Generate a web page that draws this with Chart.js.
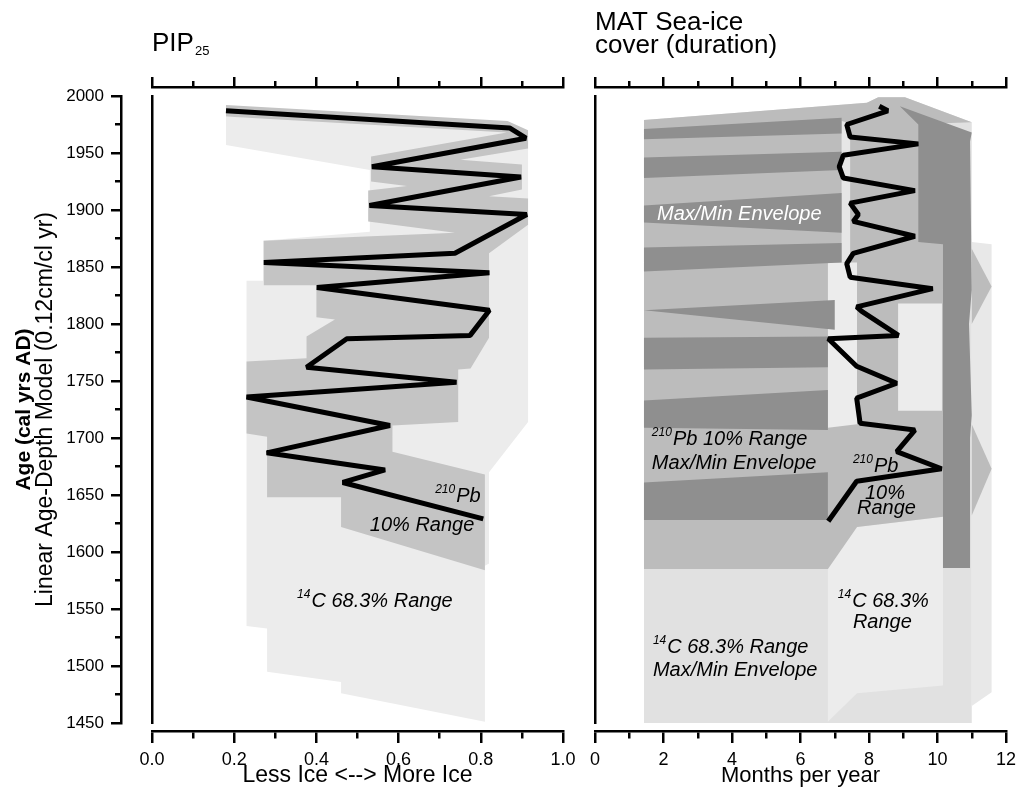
<!DOCTYPE html>
<html>
<head>
<meta charset="utf-8">
<title>PIP25 and MAT sea-ice cover</title>
<script src="https://cdn.jsdelivr.net/npm/chart.js@4.4.1/dist/chart.umd.min.js"></script>
<style>
  html, body { margin: 0; padding: 0; background: #fff; overflow: hidden; width: 1016px; height: 794px; }
  canvas { position: absolute; top: 0; }
  #pipChart { left: 0; }
  #matChart { left: 560px; }
</style>
</head>
<body>
<canvas id="pipChart" width="600" height="794"></canvas>
<canvas id="matChart" width="470" height="794"></canvas>
<script>
var FONT = '"Liberation Sans", Arial, Helvetica, sans-serif';

// age axis (cal yrs AD)
var ageMin = 1450, ageMax = 2000, ageStep = 25, ageLabelStep = 50;
// PIP25 axis
var pipMin = 0, pipMax = 1, pipStep = 0.1;
// sea-ice duration axis (months per year)
var iceMin = 0, iceMax = 12, iceStep = 1;

// PIP25 down-core profile
var pipValue = [0.18, 0.87, 0.91, 0.535, 0.898, 0.529, 0.912, 0.737, 0.272, 0.821, 0.401, 0.821, 0.774, 0.474, 0.376, 0.741, 0.23, 0.579, 0.279, 0.567, 0.464, 0.806];
var pipAge = [1987, 1972, 1963, 1938, 1929, 1904, 1896, 1862, 1854, 1845, 1832, 1812, 1790, 1787, 1762, 1749, 1736, 1711, 1687, 1672, 1661, 1629];

// PIP25 14C 68.3% range envelope [value, age]
var pip14C = [[0.18, 1982], [0.87, 1972], [0.915, 1966], [0.915, 1714], [0.82, 1670], [0.82, 1590], [0.81, 1588], [0.81, 1451],
  [0.46, 1476], [0.46, 1486], [0.28, 1495], [0.28, 1533], [0.23, 1535], [0.23, 1838], [0.27, 1838], [0.27, 1873],
  [0.53, 1881], [0.53, 1935], [0.18, 1957]];

// PIP25 210Pb 10% range envelope [value, age]
var pipPb = [[0.18, 1992], [0.865, 1978], [0.915, 1970], [0.915, 1954], [0.75, 1944], [0.9, 1940], [0.9, 1918], [0.82, 1912],
  [0.915, 1910], [0.915, 1887], [0.82, 1862], [0.82, 1788], [0.775, 1761], [0.745, 1760], [0.745, 1714], [0.585, 1711],
  [0.585, 1688], [0.81, 1668], [0.81, 1584], [0.46, 1622], [0.46, 1648], [0.28, 1648], [0.28, 1701], [0.23, 1704],
  [0.23, 1767], [0.376, 1770], [0.376, 1789], [0.445, 1804], [0.4, 1806], [0.4, 1834], [0.272, 1834], [0.272, 1873],
  [0.737, 1880], [0.526, 1890], [0.526, 1917], [0.62, 1921], [0.533, 1925], [0.533, 1947], [0.863, 1968], [0.18, 1982]];

// MAT sea-ice cover profile
var iceMonths = [8.3, 8.55, 7.35, 7.45, 9.44, 7.25, 7.13, 7.25, 9.34, 7.45, 7.69, 7.54, 9.34, 7.54, 7.35, 7.45, 9.86, 7.64, 7.79, 8.86, 6.81, 7.64, 8.81, 7.64, 7.74, 9.34, 8.81, 10.12, 7.64, 6.81];
var iceAge = [1991, 1987, 1975, 1964, 1958, 1948, 1938, 1928, 1917, 1906, 1896, 1890, 1877, 1862, 1853, 1841, 1831, 1815, 1811, 1790, 1787, 1763, 1748, 1735, 1713, 1707, 1688, 1673, 1662, 1627];

// MAT envelopes [months, age]
var ice14CMaxMin = [[1.43, 1450], [11.0, 1450], [11.0, 1977], [9.05, 1999], [8.27, 1999], [7.94, 1994], [1.43, 1979]];
var ice14COuter = [[11.0, 1872], [11.58, 1870], [11.58, 1477], [11.0, 1465]];
var ice14CRange = [[6.8, 1451], [7.65, 1476], [10.16, 1483], [10.16, 1631], [7.65, 1622], [6.8, 1585]];
var icePbMaxMin = [[1.43, 1585], [6.8, 1585], [7.65, 1622], [10.16, 1631], [10.16, 1976], [11.0, 1977], [9.05, 1999],
  [8.27, 1999], [7.94, 1994], [1.43, 1979]];
var icePbGapA = [[6.8, 1709], [7.65, 1712], [7.65, 1854], [6.8, 1854]];
var icePbGapB = [[8.85, 1724], [10.13, 1724], [10.13, 1818], [8.85, 1818]];
var icePbGapC = [[7.2, 1978], [7.45, 1976], [7.45, 1854], [7.2, 1854]];
var iceOuterTipA = [[11.0, 1866], [11.58, 1833], [11.0, 1800]];
var iceOuterTipB = [[11.0, 1712], [11.58, 1673], [11.0, 1632]];
var iceCore = [[10.16, 1586], [10.95, 1586], [10.95, 1700], [11.0, 1720], [10.92, 1800], [11.0, 1830], [10.95, 1960],
  [11.0, 1968], [8.9, 1991], [9.44, 1975], [9.44, 1872], [10.16, 1870]];
var iceStripes = [
  [[1.43, 1971], [7.2, 1981], [7.2, 1967], [1.43, 1962]],
  [[1.43, 1946], [7.2, 1951], [7.2, 1935], [1.43, 1928]],
  [[1.43, 1904], [7.2, 1915], [7.2, 1880], [1.43, 1889]],
  [[1.43, 1867], [7.2, 1871], [7.2, 1854], [1.43, 1846]],
  [[1.43, 1812], [7.0, 1821], [7.0, 1795]],
  [[1.43, 1788], [6.8, 1789], [6.8, 1762], [1.43, 1760]],
  [[1.43, 1733], [6.8, 1742], [6.8, 1707], [1.43, 1709]],
  [[1.43, 1661], [6.8, 1670], [6.8, 1628], [1.43, 1628]]
];

function pts(verts) {
  return verts.map(function (v) { return { x: v[0], y: v[1] }; });
}
function zip(xs, ys) {
  return xs.map(function (x, i) { return [x, ys[i]]; });
}
function area(verts, color, order) {
  return { data: pts(verts), backgroundColor: color, borderColor: 'rgba(0,0,0,0)', borderWidth: 0,
    pointRadius: 0, fill: 'shape', tension: 0, order: order };
}
function profile(xs, ys) {
  return { data: pts(zip(xs, ys)), borderColor: '#000', borderWidth: 5, pointRadius: 0, fill: false,
    tension: 0, borderJoinStyle: 'bevel', order: 0 };
}

// in-plot notes and panel titles
var panelText = {
  id: 'panelText',
  afterDatasetsDraw: function (chart, args, opts) {
    var ctx = chart.ctx, sx = chart.scales.x, sy = chart.scales.y;
    ctx.save();
    ctx.textBaseline = 'alphabetic';
    ctx.textAlign = 'left';
    (opts.notes || []).forEach(function (n) {
      var px = sx.getPixelForValue(n.x), py = sy.getPixelForValue(n.y);
      ctx.fillStyle = n.color || '#000';
      if (n.sup) {
        ctx.font = 'italic 12px ' + FONT;
        ctx.fillText(n.sup, px, py - 9);
        px += ctx.measureText(n.sup).width + 1;
      }
      ctx.font = 'italic 20px ' + FONT;
      ctx.fillText(n.text, px, py);
    });
    ctx.restore();
  },
  afterDraw: function (chart, args, opts) {
    var ctx = chart.ctx, left = chart.chartArea.left;
    ctx.save();
    ctx.fillStyle = '#000';
    ctx.textBaseline = 'alphabetic';
    ctx.textAlign = 'left';
    (opts.title || []).forEach(function (t) {
      ctx.font = '26px ' + FONT;
      ctx.fillText(t.text, left, t.y);
      if (t.sub) {
        var w = ctx.measureText(t.text).width;
        ctx.font = '13px ' + FONT;
        ctx.fillText(t.sub, left + w + 1, t.y + 4);
      }
    });
    ctx.restore();
  }
};

// minor ticks are drawn shorter with a dash on the tick mark
function minorDash(isMajor, fromBorder) {
  return function (c) {
    if (!c.tick || isMajor(c.tick.value)) return [];
    return fromBorder ? [6, 40] : [6, 4];
  };
}
function minorOffset(isMajor) {
  return function (c) { return (!c.tick || isMajor(c.tick.value)) ? 0 : 6; };
}
function spacer(pos, size) {
  return { type: 'linear', position: pos, weight: 0, min: 0, max: 1,
    ticks: { display: false }, grid: { display: false }, border: { display: false },
    afterFit: function (s) { if (pos === 'left') s.width = size; else s.height = size; } };
}
function bottomAxis(min, max, step, isMajor, fmt, title, titleSize) {
  return { type: 'linear', position: 'bottom', weight: 1, min: min, max: max,
    ticks: { stepSize: step, autoSkip: false, maxRotation: 0, padding: 6, color: '#000',
      font: { family: FONT, size: 18 }, callback: function (v) { return isMajor(v) ? fmt(v) : ''; } },
    grid: { drawOnChartArea: false, tickLength: 12, color: '#000', lineWidth: 2.5,
      tickBorderDash: minorDash(isMajor, true) },
    border: { display: true, color: '#000', width: 2.5 },
    title: { display: true, text: title, color: '#000', font: { family: FONT, size: titleSize }, padding: { top: 0, bottom: 5 } },
    afterFit: function (s) { s.height = 63; } };
}
function topAxis(min, max, step, isMajor) {
  return { type: 'linear', position: 'top', weight: 1, min: min, max: max,
    ticks: { stepSize: step, autoSkip: false, display: false },
    grid: { drawOnChartArea: false, tickLength: 10, color: '#000', lineWidth: 2.5,
      tickBorderDash: minorDash(isMajor, false), tickBorderDashOffset: minorOffset(isMajor) },
    border: { display: true, color: '#000', width: 2.5 },
    afterFit: function (s) { s.height = 10; } };
}

var pipMajor = function (v) { return Math.round(v * 10) % 2 === 0; };
var iceMajor = function (v) { return Math.round(v) % 2 === 0; };
var ageMajor = function (v) { return Math.round(v) % ageLabelStep === 0; };

var common = {
  responsive: false, animation: false, devicePixelRatio: 1, events: [],
  plugins: { legend: { display: false }, tooltip: { enabled: false } }
};

new Chart(document.getElementById('pipChart'), {
  type: 'line',
  data: { datasets: [profile(pipValue, pipAge), area(pipPb, '#c4c4c4', 1), area(pip14C, '#ececec', 2)] },
  options: Object.assign({}, common, {
    layout: { padding: { top: 77, left: 0, right: 37, bottom: 0 } },
    plugins: Object.assign({}, common.plugins, {
      panelText: {
        title: [{ text: 'PIP', sub: '25', y: 51 }],
        notes: [
          { sup: '210', text: 'Pb', x: 0.689, y: 1644 },
          { text: '10% Range', x: 0.53, y: 1618 },
          { sup: '14', text: 'C 68.3% Range', x: 0.353, y: 1552 }
        ]
      }
    }),
    scales: {
      x: bottomAxis(pipMin, pipMax, pipStep, pipMajor, function (v) { return v.toFixed(1); }, 'Less Ice <--> More Ice', 23),
      xGap: spacer('bottom', 8),
      xTop: topAxis(pipMin, pipMax, pipStep, pipMajor),
      xTopGap: spacer('top', 9),
      y: { type: 'linear', position: 'left', weight: 1, min: ageMin, max: ageMax,
        ticks: { stepSize: ageStep, autoSkip: false, padding: 7, color: '#000', font: { family: FONT, size: 17 },
          callback: function (v) { return ageMajor(v) ? String(v) : ''; } },
        grid: { drawOnChartArea: false, tickLength: 10, color: '#000', lineWidth: 2.5,
          tickBorderDash: minorDash(ageMajor, false), tickBorderDashOffset: minorOffset(ageMajor) },
        border: { display: true, color: '#000', width: 2.5 },
        title: { display: true, text: 'Linear Age-Depth Model (0.12cm/cl yr)', color: '#000',
          font: { family: FONT, size: 23 }, padding: { top: 0, bottom: 0 } },
        afterFit: function (s) { s.width = 89; } },
      yTitle: { type: 'linear', position: 'left', weight: 2, min: 0, max: 1,
        ticks: { display: false }, grid: { display: false }, border: { display: false },
        title: { display: true, text: 'Age (cal yrs AD)', color: '#000',
          font: { family: FONT, size: 21, weight: 'bold' }, padding: { top: 12, bottom: 0 } },
        afterFit: function (s) { s.width = 32; } },
      yGap: { type: 'linear', position: 'left', weight: 0, min: 0, max: 1,
        ticks: { display: false }, grid: { display: false }, border: { display: true, color: '#000', width: 2.5 },
        afterFit: function (s) { s.width = 31; } }
    }
  }),
  plugins: [panelText]
});

var iceSets = [profile(iceMonths, iceAge)];
iceStripes.forEach(function (s) { iceSets.push(area(s, '#8f8f8f', 3)); });
iceSets.push(area(iceCore, '#8f8f8f', 3));
iceSets.push(area(icePbGapA, '#ececec', 4));
iceSets.push(area(icePbGapB, '#ececec', 4));
iceSets.push(area(icePbGapC, '#e6e6e6', 4));
iceSets.push(area(iceOuterTipA, '#bcbcbc', 4));
iceSets.push(area(iceOuterTipB, '#bcbcbc', 4));
iceSets.push(area(icePbMaxMin, '#bcbcbc', 5));
iceSets.push(area(ice14CRange, '#ececec', 6));
iceSets.push(area(ice14COuter, '#e8e8e8', 7));
iceSets.push(area(ice14CMaxMin, '#e1e1e1', 8));

new Chart(document.getElementById('matChart'), {
  type: 'line',
  data: { datasets: iceSets },
  options: Object.assign({}, common, {
    layout: { padding: { top: 77, left: 0, right: 24, bottom: 0 } },
    plugins: Object.assign({}, common.plugins, {
      panelText: {
        title: [{ text: 'MAT Sea-ice', y: 30 }, { text: 'cover (duration)', y: 53 }],
        notes: [
          { text: 'Max/Min Envelope', x: 1.81, y: 1891, color: '#fff' },
          { sup: '210', text: 'Pb 10% Range', x: 1.66, y: 1694 },
          { text: 'Max/Min Envelope', x: 1.66, y: 1673 },
          { sup: '210', text: 'Pb', x: 7.53, y: 1670.5 },
          { text: '10%', x: 7.88, y: 1646.5 },
          { text: 'Range', x: 7.65, y: 1633 },
          { sup: '14', text: 'C 68.3%', x: 7.09, y: 1552 },
          { text: 'Range', x: 7.53, y: 1533 },
          { sup: '14', text: 'C 68.3% Range', x: 1.69, y: 1511 },
          { text: 'Max/Min Envelope', x: 1.69, y: 1491 }
        ]
      }
    }),
    scales: {
      x: bottomAxis(iceMin, iceMax, iceStep, iceMajor, function (v) { return String(v); }, 'Months per year', 22),
      xGap: spacer('bottom', 8),
      xTop: topAxis(iceMin, iceMax, iceStep, iceMajor),
      xTopGap: spacer('top', 9),
      y: { type: 'linear', position: 'left', weight: 0, min: ageMin, max: ageMax,
        ticks: { display: false }, grid: { display: false }, border: { display: true, color: '#000', width: 2.5 },
        afterFit: function (s) { s.width = 35; } }
    }
  }),
  plugins: [panelText]
});
</script>
</body>
</html>
